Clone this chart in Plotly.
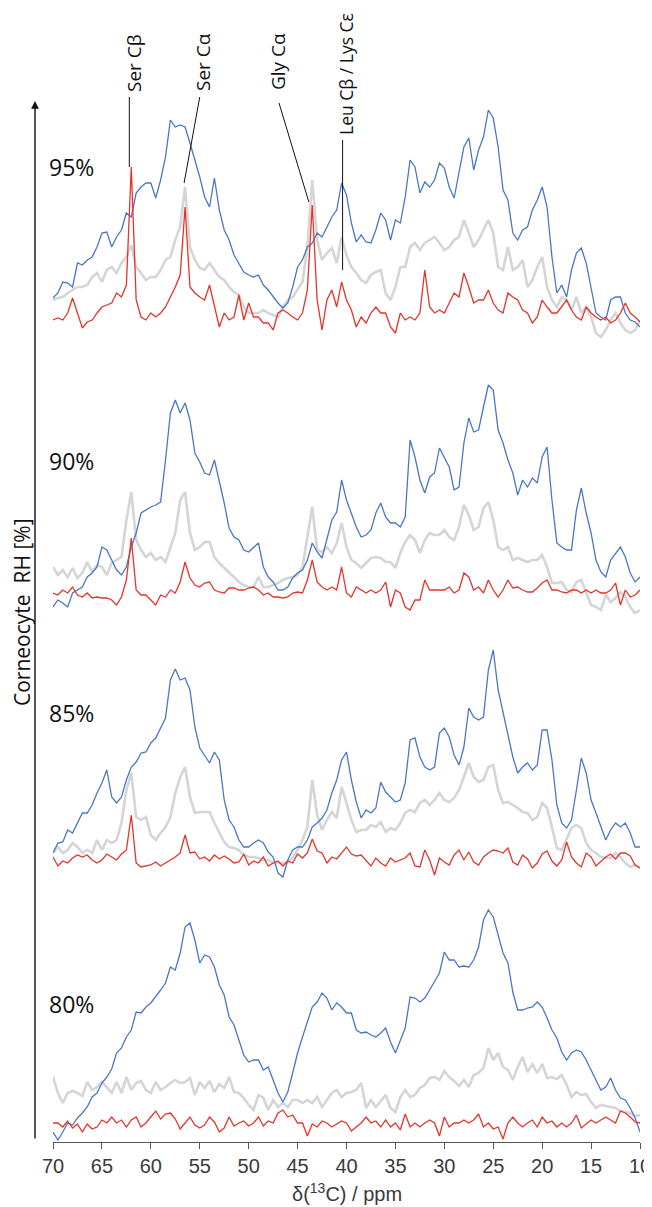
import plotly.graph_objects as go

# ---------------- data ----------------
PPM = [70 - 0.5 * i for i in range(121)]  # sampling grid, 70 -> 10 ppm

PANELS = ["95%", "90%", "85%", "80%"]

BLUE_95 = [32, 37, 48, 47, 43, 67, 65, 70, 73, 83,
           97, 98, 83, 93, 100, 117, 113, 137, 143, 147,
           147, 132, 150, 173, 210, 203, 205, 203, 187, 170,
           153, 133, 123, 152, 120, 100, 90, 75, 67, 58,
           55, 53, 55, 45, 40, 33, 27, 22, 27, 43,
           63, 70, 83, 87, 97, 93, 103, 113, 120, 147,
           135, 107, 88, 95, 88, 87, 100, 117, 110, 90,
           110, 107, 133, 170, 163, 137, 148, 143, 150, 167,
           162, 143, 132, 157, 183, 192, 160, 180, 193, 220,
           212, 183, 140, 130, 97, 90, 100, 103, 120, 130,
           143, 123, 73, 37, 45, 33, 60, 77, 82, 67,
           43, 17, 13, 10, 30, 33, 33, 17, 10, 8,
           3]
GRAY_95 = [30, 32, 33, 37, 40, 43, 43, 45, 53, 57,
           48, 60, 63, 57, 67, 73, 85, 63, 57, 50,
           53, 53, 60, 70, 73, 90, 103, 143, 83, 70,
           62, 60, 67, 60, 53, 50, 43, 38, 35, 23,
           17, 17, 17, 20, 17, 15, 13, 23, 30, 33,
           40, 48, 83, 150, 90, 70, 77, 82, 67, 93,
           75, 63, 57, 50, 47, 55, 58, 60, 37, 30,
           43, 63, 63, 83, 87, 80, 87, 90, 93, 87,
           80, 83, 90, 93, 110, 97, 83, 90, 100, 110,
           97, 63, 60, 83, 60, 63, 70, 43, 50, 63,
           73, 43, 30, 23, 33, 30, 20, 33, 17, 23,
           13, -3, -7, 0, 10, 17, 7, 0, -3, 0,
           10]
RED_95 = [10, 12, 10, 17, 32, 17, 2, 8, 10, 17,
          23, 25, 27, 37, 33, 45, 163, 30, 13, 10,
          17, 13, 17, 23, 33, 43, 55, 123, 43, 37,
          33, 30, 45, 23, 3, 17, 10, 13, 35, 10,
          27, 13, 13, 7, 7, 0, 17, 20, 17, 13,
          10, 17, 40, 125, 30, 0, 30, 40, 23, 48,
          30, 20, 3, 13, 7, 17, 23, 17, 17, 3,
          -3, 17, 10, 13, 10, 17, 60, 23, 17, 20,
          17, 27, 37, 33, 57, 43, 27, 30, 30, 40,
          27, 20, 17, 37, 33, 30, 20, 17, 7, 13,
          30, 23, 17, 17, 23, 30, 20, 13, 10, 23,
          17, 13, 10, 13, 7, 10, 17, 27, 17, 13,
          8]

BLUE_90 = [3, 10, 7, 3, 17, 20, 23, 33, 37, 43,
           63, 60, 50, 40, 35, 43, 63, 77, 97, 100,
           103, 105, 108, 150, 197, 210, 197, 207, 190, 157,
           148, 137, 135, 150, 130, 107, 82, 73, 70, 60,
           58, 63, 67, 43, 33, 28, 20, 20, 23, 32,
           37, 40, 50, 67, 58, 52, 70, 90, 98, 130,
           110, 97, 83, 73, 75, 80, 97, 107, 93, 87,
           87, 83, 93, 170, 153, 130, 117, 133, 137, 162,
           153, 143, 120, 123, 167, 192, 178, 180, 203, 225,
           220, 180, 167, 150, 137, 115, 130, 123, 132, 127,
           153, 163, 110, 67, 63, 60, 60, 100, 122, 97,
           77, 50, 38, 33, 50, 57, 63, 53, 37, 28,
           33]
GRAY_90 = [43, 35, 40, 33, 42, 32, 37, 48, 38, 45,
           43, 35, 47, 50, 53, 90, 118, 70, 60, 53,
           57, 50, 53, 48, 63, 77, 110, 118, 77, 60,
           63, 68, 68, 53, 47, 42, 37, 33, 28, 25,
           23, 23, 33, 23, 23, 25, 27, 30, 32, 33,
           35, 43, 73, 103, 60, 58, 63, 57, 67, 87,
           63, 50, 47, 42, 47, 52, 53, 52, 48, 48,
           42, 57, 68, 75, 70, 57, 70, 77, 75, 75,
           80, 73, 70, 83, 105, 95, 80, 83, 102, 108,
           90, 63, 60, 63, 50, 52, 50, 48, 50, 50,
           55, 43, 27, 27, 28, 20, 18, 28, 30, 17,
           5, 3, 0, 15, 8, 12, 18, 13, 3, -3,
           0]
RED_90 = [17, 15, 20, 17, 23, 15, 13, 17, 12, 13,
          12, 12, 10, 5, 13, 30, 72, 20, 15, 15,
          10, 5, 15, 13, 20, 17, 28, 48, 32, 25,
          23, 27, 28, 20, 18, 17, 22, 22, 20, 20,
          22, 23, 20, 15, 17, 13, 13, 12, 13, 17,
          18, 17, 30, 50, 28, 23, 20, 23, 20, 43,
          17, 13, 23, 20, 17, 20, 17, 20, 28, 3,
          20, 17, 3, 0, 10, 10, 30, 20, 20, 20,
          20, 23, 17, 20, 37, 33, 20, 23, 17, 30,
          20, 13, 20, 30, 22, 23, 20, 18, 18, 22,
          27, 30, 20, 20, 18, 17, 20, 20, 17, 20,
          17, 20, 17, 17, 20, 27, 5, 20, 13, 15,
          20]

BLUE_85 = [22, 32, 33, 45, 42, 52, 62, 62, 70, 82,
           92, 105, 78, 72, 78, 95, 108, 113, 122, 123,
           132, 137, 147, 157, 195, 206, 195, 197, 185, 148,
           127, 120, 112, 123, 115, 75, 55, 48, 35, 28,
           28, 32, 35, 32, 23, 18, 2, -2, 15, 25,
           28, 28, 35, 48, 52, 57, 65, 82, 95, 115,
           123, 95, 73, 57, 65, 62, 67, 93, 83, 78,
           73, 75, 92, 135, 137, 118, 108, 105, 108, 142,
           147, 138, 120, 110, 128, 167, 158, 155, 158, 205,
           225, 185, 163, 138, 118, 102, 108, 112, 105, 110,
           145, 145, 115, 70, 52, 47, 55, 85, 117, 102,
           75, 62, 48, 35, 45, 52, 48, 52, 42, 28,
           28]
GRAY_85 = [22, 28, 22, 25, 32, 28, 22, 25, 22, 35,
           25, 35, 32, 35, 52, 85, 102, 58, 55, 58,
           40, 35, 42, 48, 58, 82, 98, 108, 78, 62,
           63, 63, 63, 52, 42, 33, 28, 27, 25, 20,
           18, 18, 17, 15, 15, 12, 12, 12, 13, 17,
           25, 35, 48, 95, 60, 45, 55, 63, 57, 88,
           72, 55, 43, 45, 45, 50, 48, 53, 43, 47,
           45, 52, 62, 65, 63, 72, 75, 70, 75, 82,
           75, 73, 77, 85, 98, 112, 98, 93, 95, 108,
           110, 85, 72, 73, 70, 67, 63, 62, 55, 58,
           72, 67, 48, 27, 25, 37, 47, 50, 47, 32,
           25, 22, 18, 17, 17, 22, 18, 12, 8, 10,
           7]
RED_85 = [18, 9, 14, 12, 17, 20, 18, 20, 15, 12,
          15, 21, 18, 15, 21, 25, 60, 12, 8, 9,
          10, 13, 9, 12, 15, 18, 22, 40, 22, 23,
          16, 18, 14, 20, 16, 19, 16, 12, 13, 21,
          10, 14, 12, 18, 9, 12, 14, 9, 14, 12,
          21, 17, 22, 36, 24, 22, 12, 18, 16, 22,
          28, 21, 19, 20, 14, 9, 17, 12, 9, 17,
          13, 15, 17, 22, 9, 8, 25, 15, 0, 17,
          13, 10, 20, 25, 15, 23, 13, 10, 18, 22,
          25, 24, 22, 27, 13, 10, 20, 16, 7, 12,
          21, 24, 14, 9, 15, 33, 18, 12, 8, 22,
          18, 9, 14, 18, 21, 16, 22, 22, 19, 10,
          7]

BLUE_80 = [10, 2, 10, 19, 17, 24, 29, 35, 45, 49,
           59, 65, 73, 89, 94, 105, 112, 130, 129, 135,
           139, 145, 152, 159, 175, 172, 189, 215, 219, 202,
           179, 187, 185, 175, 157, 147, 125, 117, 102, 87,
           80, 82, 82, 72, 75, 62, 49, 40, 50, 69,
           89, 105, 119, 135, 140, 149, 144, 132, 139, 135,
           129, 129, 112, 109, 110, 107, 105, 109, 114, 100,
           89, 102, 114, 145, 144, 140, 144, 152, 160, 169,
           190, 182, 182, 175, 176, 175, 182, 195, 222, 232,
           225, 207, 189, 179, 150, 132, 132, 134, 135, 140,
           135, 124, 112, 104, 90, 82, 89, 92, 90, 82,
           72, 62, 52, 55, 64, 52, 44, 42, 34, 24,
           10]
GRAY_80 = [65, 49, 39, 49, 51, 49, 46, 60, 52, 55,
           60, 55, 49, 60, 49, 65, 52, 59, 61, 52,
           49, 60, 52, 55, 59, 62, 59, 60, 64, 47,
           60, 54, 61, 50, 58, 54, 65, 50, 49, 44,
           37, 32, 47, 44, 32, 42, 35, 39, 35, 42,
           42, 39, 42, 39, 45, 35, 42, 49, 52, 45,
           49, 50, 52, 59, 34, 42, 35, 41, 47, 34,
           30, 45, 52, 45, 47, 54, 57, 64, 65, 62,
           71, 65, 61, 56, 62, 55, 67, 69, 74, 94,
           82, 89, 75, 72, 62, 75, 85, 70, 78, 69,
           78, 64, 65, 63, 67, 57, 45, 50, 47, 48,
           40, 34, 37, 36, 35, 34, 31, 30, 29, 26,
           27]
RED_80 = [19, 19, 15, 21, 14, 18, 10, 18, 13, 15,
          22, 19, 25, 19, 22, 15, 22, 25, 15, 19,
          25, 31, 23, 28, 29, 23, 13, 19, 25, 17,
          14, 17, 25, 20, 10, 14, 25, 16, 19, 21,
          16, 19, 25, 16, 21, 19, 29, 32, 25, 27,
          19, 19, 6, 18, 15, 21, 19, 15, 18, 21,
          19, 11, 15, 19, 25, 19, 21, 15, 22, 15,
          19, 12, 28, 15, 19, 15, 19, 22, 19, 6,
          25, 15, 19, 19, 22, 19, 22, 28, 15, 19,
          13, 15, 3, 19, 25, 19, 15, 19, 22, 15,
          25, 19, 21, 15, 19, 15, 19, 27, 14, 18,
          22, 19, 22, 25, 22, 19, 31, 29, 25, 20,
          19]

SERIES = [
    (GRAY_95, BLUE_95, RED_95),
    (GRAY_90, BLUE_90, RED_90),
    (GRAY_85, BLUE_85, RED_85),
    (GRAY_80, BLUE_80, RED_80),
]

PEAK_LABELS = ["Ser C\u03b2", "Ser C\u03b1", "Gly C\u03b1", "Leu C\u03b2 / Lys C\u03b5"]
TICKS = [70, 65, 60, 55, 50, 45, 40, 35, 30, 25, 20, 15, 10]

# ---------------- layout constants ----------------
BODY = 8                      # default page margin of the html body
W, H = 652 - BODY, 1207 - BODY
ML, MR, MT, MB = 45, 12, 0, 65
PH = H - MT - MB              # plot-area height (px)
PW = W - ML - MR              # plot-area width (px)
X0_WIN = BODY + ML            # window x of plot-area left edge
Y1_WIN = BODY + MT + PH       # window y of plot-area bottom edge

BASE_PX = [330, 610, 875, 1142]   # window y of each panel baseline
LO = [-15, -15, -15, 0]
HI = 240

BLUE = "#4a77c5"
RED = "#e4342b"
GRAY = "#d5d5d5"
FONT_TXT = "Open Sans"
FONT_AX = "Liberation Sans"


def xp(px):
    return (px - X0_WIN) / PW


def yp(py):
    return (Y1_WIN - py) / PH


fig = go.Figure()

for k, (g, b, r) in enumerate(SERIES):
    yname = "y" if k == 0 else f"y{k + 1}"
    for vals, col, wid in ((g, GRAY, 2.6), (b, BLUE, 1.3), (r, RED, 1.3)):
        fig.add_trace(go.Scatter(x=PPM, y=vals, mode="lines",
                                 line=dict(color=col, width=wid),
                                 xaxis="x", yaxis=yname,
                                 hoverinfo="skip", showlegend=False))

layout = dict(
    width=W, height=H,
    margin=dict(l=ML, r=MR, t=MT, b=MB),
    paper_bgcolor="white", plot_bgcolor="white",
    showlegend=False,
    xaxis=dict(range=[70, 10], domain=[0, 1], anchor="y4",
               showline=True, linecolor="#555", linewidth=1,
               ticks="outside", ticklen=6, tickcolor="#555",
               tickvals=TICKS, ticktext=[str(t) for t in TICKS],
               tickfont=dict(family=FONT_AX, size=20, color="#3a3a3a"),
               showgrid=False, zeroline=False),
)
for k in range(4):
    key = "yaxis" if k == 0 else f"yaxis{k + 1}"
    bot = BASE_PX[k] - LO[k]
    top = BASE_PX[k] - HI
    layout[key] = dict(domain=[max(0.0, yp(bot)), yp(top)],
                       range=[LO[k], HI], visible=False,
                       anchor="x", fixedrange=True)
fig.update_layout(**layout)

ann = []
# x-axis title
ann.append(dict(text="\u03b4(<sup>13</sup>C) / ppm", xref="paper", yref="paper",
                x=xp(347), y=yp(1192), showarrow=False,
                xanchor="center", yanchor="middle",
                font=dict(family=FONT_AX, size=20, color="#3a3a3a")))
# y arrow
ann.append(dict(text="", xref="paper", yref="paper",
                x=xp(35), y=yp(101), ax=0, ay=1039,
                showarrow=True, arrowhead=2, arrowsize=1.1, arrowwidth=1.4,
                arrowcolor="#111"))
ann.append(dict(text="Corneocyte  RH [%]", xref="paper", yref="paper",
                x=xp(22), y=yp(612), textangle=-90,
                showarrow=False, xanchor="center", yanchor="middle",
                font=dict(family=FONT_TXT, size=21, color="#111")))
# panel labels
for lab, cy in zip(PANELS, [167, 461, 713, 1004]):
    ann.append(dict(text=lab, xref="paper", yref="paper",
                    x=xp(47), y=yp(cy), showarrow=False,
                    xanchor="left", yanchor="middle",
                    font=dict(family=FONT_TXT, size=23, color="#111")))
# peak labels (rotated)
for lab, cx, cy, fs in zip(PEAK_LABELS, [134, 203, 278, 346],
                           [63, 62, 62, 74], [19, 19, 19, 17.5]):
    ann.append(dict(text=lab, xref="paper", yref="paper",
                    x=xp(cx), y=yp(cy), textangle=-90,
                    showarrow=False, xanchor="center", yanchor="middle",
                    font=dict(family=FONT_TXT, size=fs, color="#111")))
fig.update_layout(annotations=ann)

# leader lines (in ppm / panel-95 intensity units)
LEADERS = [(62.2, 233, 62.2, 163),
           (55.0, 233, 56.6, 147),
           (46.9, 227, 43.85, 128),
           (40.4, 190, 40.4, 60)]
for x0, y0, x1, y1 in LEADERS:
    fig.add_shape(type="line", xref="x", yref="y", x0=x0, y0=y0, x1=x1, y1=y1,
                  line=dict(color="#111", width=1))

fig.write_html("out.html")
